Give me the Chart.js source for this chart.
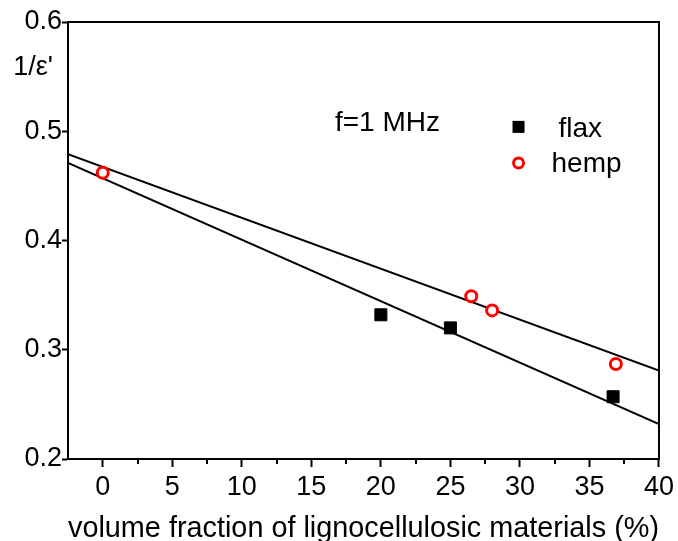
<!DOCTYPE html>
<html>
<head>
<meta charset="utf-8">
<script src="https://cdn.jsdelivr.net/npm/chart.js@4"></script>
<style>
  body { margin: 0; background: #fff; }
  #wrap { width: 678px; height: 541px; position: relative; }
</style>
</head>
<body>
<div id="wrap"><canvas id="chart"></canvas></div>
<script>
const flaxX = [20, 25, 36.7];
const flaxY = [0.332, 0.320, 0.257];
const hempX = [0, 26.5, 28, 36.9];
const hempY = [0.462, 0.349, 0.336, 0.287];
const fitX = [-2.5, 40];
const flaxFitY = [0.471, 0.232];
const hempFitY = [0.479, 0.281];
const xTickValues = [0, 5, 10, 15, 20, 25, 30, 35, 40];
const xMinorTicks = [2.5, 7.5, 12.5, 17.5, 22.5, 27.5, 32.5, 37.5];
const yTickValues = [0.2, 0.3, 0.4, 0.5, 0.6];

const FONT = '"Liberation Sans", Arial, sans-serif';

const pts = (xs, ys) => xs.map((x, i) => ({ x: x, y: ys[i] }));

// frame, minor ticks, labels and legend drawn on top of the chart
const extras = {
  id: 'extras',
  afterDraw(chart) {
    const ctx = chart.ctx;
    const a = chart.chartArea;
    const xs = chart.scales.x, ys = chart.scales.y;
    ctx.save();
    ctx.strokeStyle = '#000';
    ctx.lineWidth = 2;
    ctx.strokeRect(a.left, a.top, a.right - a.left, a.bottom - a.top);
    ctx.beginPath();
    xMinorTicks.forEach(v => {
      const px = Math.round(xs.getPixelForValue(v));
      ctx.moveTo(px, a.bottom);
      ctx.lineTo(px, a.bottom + 5);
    });
    ctx.stroke();

    ctx.fillStyle = '#000';
    ctx.font = '27px ' + FONT;
    ctx.textBaseline = 'middle';
    ctx.textAlign = 'right';
    ctx.fillText("1/\u03B5'", a.left - 15, ys.getPixelForValue(0.558));
    ctx.font = '28px ' + FONT;
    ctx.textAlign = 'left';
    ctx.fillText('f=1 MHz', xs.getPixelForValue(16.7), ys.getPixelForValue(0.507));

    // legend
    const lx = xs.getPixelForValue(29.9);
    const ly1 = ys.getPixelForValue(0.504), ly2 = ys.getPixelForValue(0.471);
    ctx.fillRect(lx - 6, ly1 - 6, 12, 12);
    ctx.beginPath();
    ctx.arc(lx, ly2, 5, 0, Math.PI * 2);
    ctx.fillStyle = '#fff';
    ctx.fill();
    ctx.strokeStyle = '#ff0000';
    ctx.lineWidth = 3;
    ctx.stroke();
    ctx.fillStyle = '#000';
    ctx.fillText('flax', lx + 40, ly1 + 2);
    ctx.fillText('hemp', lx + 33, ly2 + 1);
    ctx.restore();
  }
};

new Chart(document.getElementById('chart'), {
  type: 'scatter',
  data: {
    datasets: [
      {
        label: 'hemp',
        data: pts(hempX, hempY),
        pointStyle: 'circle',
        pointRadius: 5.5,
        pointBorderWidth: 3,
        pointBorderColor: '#ff0000',
        pointBackgroundColor: '#fff'
      },
      {
        label: 'flax',
        data: pts(flaxX, flaxY),
        pointStyle: 'rect',
        pointRadius: 8.5,
        pointBorderWidth: 1,
        pointBorderColor: '#000',
        pointBackgroundColor: '#000'
      },
      {
        type: 'line',
        data: pts(fitX, hempFitY),
        borderColor: '#000',
        borderWidth: 2,
        pointRadius: 0
      },
      {
        type: 'line',
        data: pts(fitX, flaxFitY),
        borderColor: '#000',
        borderWidth: 2,
        pointRadius: 0
      }
    ]
  },
  options: {
    responsive: true,
    maintainAspectRatio: false,
    animation: false,
    layout: { padding: { top: 22, right: 18, left: 0, bottom: 0 } },
    plugins: {
      legend: { display: false },
      tooltip: { enabled: false }
    },
    scales: {
      x: {
        type: 'linear',
        min: -2.5,
        max: 40,
        afterFit: s => { s.height = 82; },
        afterBuildTicks: s => { s.ticks = xTickValues.map(v => ({ value: v })); },
        border: { display: true, color: '#000', width: 2 },
        grid: { drawOnChartArea: false, tickLength: 8, tickWidth: 2, tickColor: '#000' },
        ticks: {
          autoSkip: false,
          maxRotation: 0,
          padding: 4,
          color: '#000',
          font: { family: FONT, size: 27 },
          callback: v => String(v)
        },
        title: {
          display: true,
          text: 'volume fraction of lignocellulosic materials (%)',
          color: '#000',
          font: { family: FONT, size: 29 },
          padding: { top: 0, bottom: -5 }
        }
      },
      y: {
        min: 0.2,
        max: 0.6,
        afterFit: s => { s.width = 68; },
        afterBuildTicks: s => { s.ticks = yTickValues.map(v => ({ value: v })); },
        border: { display: true, color: '#000', width: 2 },
        grid: { drawOnChartArea: false, tickLength: 6, tickWidth: 2, tickColor: '#000' },
        ticks: {
          padding: 0,
          color: '#000',
          font: { family: FONT, size: 27 },
          callback: v => v.toFixed(1)
        }
      }
    }
  },
  plugins: [extras]
});
</script>
</body>
</html>
